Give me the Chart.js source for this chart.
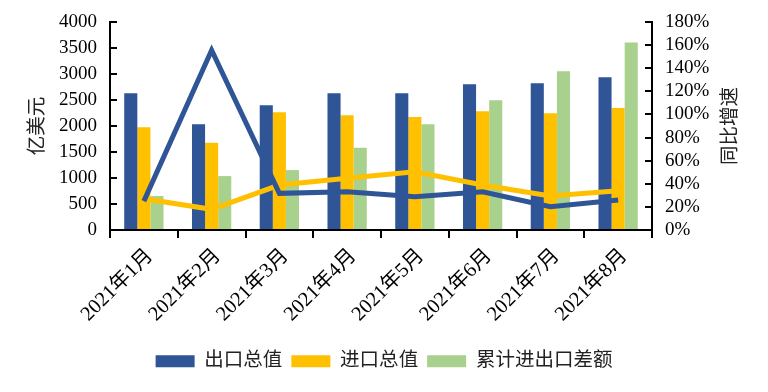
<!DOCTYPE html>
<html lang="zh">
<head>
<meta charset="UTF-8">
<title>进出口</title>
<script src="https://cdn.jsdelivr.net/npm/chart.js"></script>
<style>
  body { margin: 0; background: #fff; }
  #wrap { width: 768px; height: 392px; position: relative; }
</style>
</head>
<body>
<div id="wrap"><canvas id="chart"></canvas></div>
<script>
// data
var months = ['2021年1月', '2021年2月', '2021年3月', '2021年4月', '2021年5月', '2021年6月', '2021年7月', '2021年8月'];
var exportTotal = [2630, 2035, 2400, 2630, 2630, 2805, 2822, 2937];
var importTotal = [1977, 1676, 2265, 2207, 2175, 2284, 2246, 2348];
var cumBalance = [653, 1037, 1152, 1580, 2035, 2495, 3052, 3608];
var exportYoy = [25, 155.6, 31.7, 33, 28.8, 33, 20.1, 26];
var importYoy = [27, 17.9, 38.9, 44.7, 50.4, 38.9, 29.4, 34];
var leftTicks = [0, 500, 1000, 1500, 2000, 2500, 3000, 3500, 4000];
var rightTicks = [0, 20, 40, 60, 80, 100, 120, 140, 160, 180];

var BLUE = '#2F5597', GOLD = '#FFC000', GREEN = '#A9D18E';
var SERIF = '"Liberation Serif", "Noto Sans CJK SC", serif';

// right axis title reads bottom-to-top, so draw it ourselves
var rightTitle = {
    id: 'rightTitle',
    afterDraw: function (chart) {
        var ctx = chart.ctx;
        var a = chart.chartArea;
        ctx.save();
        ctx.translate(731, (a.top + a.bottom) / 2);
        ctx.rotate(-Math.PI / 2);
        ctx.font = '19.5px ' + SERIF;
        ctx.fillStyle = '#222';
        ctx.textAlign = 'center';
        ctx.textBaseline = 'middle';
        ctx.fillText('同比增速', 0, 0);
        ctx.restore();
    }
};

// fixed axis box sizes, no extra padding from the tick labels
function fixWidth(w) {
    return function (s) {
        s.width = w;
        s.paddingTop = 0;
        s.paddingBottom = 0;
    };
}

new Chart(document.getElementById('chart'), {
    type: 'bar',
    data: {
        labels: months,
        datasets: [
            { label: '出口总值', data: exportTotal, backgroundColor: BLUE, order: 2 },
            { label: '进口总值', data: importTotal, backgroundColor: GOLD, order: 2 },
            { label: '累计进出口差额', data: cumBalance, backgroundColor: GREEN, order: 2 },
            { type: 'line', label: '出口同比', data: exportYoy, yAxisID: 'y1', borderColor: BLUE, borderWidth: 5, pointRadius: 0, order: 1 },
            { type: 'line', label: '进口同比', data: importYoy, yAxisID: 'y1', borderColor: GOLD, borderWidth: 5, pointRadius: 0, order: 1 }
        ]
    },
    options: {
        responsive: true,
        maintainAspectRatio: false,
        animation: false,
        categoryPercentage: 0.58,
        barPercentage: 1,
        layout: { autoPadding: false, padding: { left: 0, right: 0, top: 22, bottom: 11 } },
        plugins: {
            tooltip: { enabled: false },
            legend: {
                position: 'bottom',
                labels: {
                    boxWidth: 39,
                    boxHeight: 12,
                    padding: 9,
                    color: '#222',
                    font: { family: SERIF, size: 19.5 },
                    filter: function (item) { return item.datasetIndex < 3; }
                }
            }
        },
        scales: {
            x: {
                grid: { display: true, drawOnChartArea: false, color: '#000', lineWidth: 2, tickLength: 8 },
                border: { color: '#000', width: 2 },
                ticks: { color: '#000', font: { family: SERIF, size: 20.5 }, minRotation: 45, maxRotation: 45, autoSkip: false, padding: 6, labelOffset: 6 },
                afterFit: function (s) { s.height = 112.5; }
            },
            y: {
                position: 'left',
                min: 0, max: 4000,
                afterBuildTicks: function (s) { s.ticks = leftTicks.map(function (v) { return { value: v }; }); },
                grid: { display: true, drawOnChartArea: false, color: '#000', lineWidth: 2, tickLength: -7 },
                border: { color: '#000', width: 2 },
                ticks: { color: '#000', font: { family: SERIF, size: 19 }, padding: 20, autoSkip: false, callback: function (v) { return String(v); } },
                title: { display: true, text: '亿美元', color: '#222', font: { family: SERIF, size: 19.5 }, padding: { top: 26, bottom: 0 } },
                afterFit: fixWidth(110)
            },
            y1: {
                position: 'right',
                min: 0, max: 180,
                afterBuildTicks: function (s) { s.ticks = rightTicks.map(function (v) { return { value: v }; }); },
                grid: { display: true, drawOnChartArea: false, color: '#000', lineWidth: 2, tickLength: -7 },
                border: { color: '#000', width: 2 },
                ticks: { color: '#000', font: { family: SERIF, size: 19 }, padding: 20, autoSkip: false, callback: function (v) { return v + '%'; } },
                afterFit: fixWidth(116)
            }
        }
    },
    plugins: [rightTitle]
});
</script>
</body>
</html>
